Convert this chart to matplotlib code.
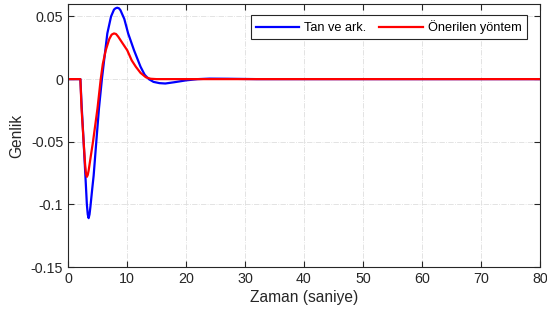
import matplotlib
matplotlib.use("Agg")
import matplotlib.pyplot as plt

plt.rcParams['font.family'] = ['Liberation Sans', 'DejaVu Sans']

t_blue = [0, 2.1, 2.3, 2.65, 2.95, 3.2, 3.35, 3.5, 3.65, 3.8, 4.1, 4.35, 4.8, 5.25, 5.75, 6.2,
          6.67, 7.3, 7.8, 8.05, 8.35, 8.65, 8.9, 9.55, 10.2, 11.2, 12.3, 13.0, 13.7, 14.5,
          15.5, 16.5, 18, 20, 22, 24, 27, 32, 80]
y_blue = [0, 0, -0.02, -0.05, -0.077, -0.100, -0.108, -0.111, -0.108, -0.102, -0.088, -0.077,
          -0.05, -0.0235, 0, 0.018, 0.0365, 0.05, 0.0555, 0.0565, 0.057, 0.0565, 0.055,
          0.048, 0.0365, 0.023, 0.0099, 0.0035, 0, -0.0022, -0.0032, -0.0035, -0.0025,
          -0.001, 0, 0.0004, 0.0003, 0, 0]

t_red = [0, 2.1, 2.3, 2.65, 2.9, 3.05, 3.2, 3.35, 3.5, 3.85, 4.24, 5.0, 5.55, 5.9, 6.4, 7.0,
         7.4, 7.8, 8.15, 8.5, 9.2, 10.05, 10.8, 11.5, 12.3, 13.2, 14, 15, 80]
y_red = [0, 0, -0.0235, -0.05, -0.068, -0.0755, -0.078, -0.0765, -0.073, -0.062, -0.05,
         -0.0235, 0, 0.012, 0.023, 0.032, 0.0355, 0.0365, 0.036, 0.034, 0.029, 0.023, 0.015,
         0.0099, 0.005, 0.0015, 0.0003, 0, 0]

labels = ["Tan ve ark.", "Önerilen yöntem"]
xticks = [0, 10, 20, 30, 40, 50, 60, 70, 80]
yticks = [-0.15, -0.1, -0.05, 0, 0.05]
ytick_labels = ["-0.15", "-0.1", "-0.05", "0", "0.05"]

fig = plt.figure(figsize=(5.47, 3.2), dpi=100)
ax = fig.add_axes([0.1243, 0.1656, 0.8625, 0.822])
ax.plot(t_blue, y_blue, color='#0000ff', lw=1.6, label=labels[0])
ax.plot(t_red, y_red, color='#ff0000', lw=1.6, label=labels[1])
ax.set_xlim(0, 80)
ax.set_ylim(-0.15, 0.06)
ax.set_xticks(xticks)
ax.set_yticks(yticks)
ax.set_yticklabels(ytick_labels)
ax.grid(True, linestyle='-.', color='#dedede', lw=0.6)
ax.tick_params(direction='in', top=True, right=True, labelsize=10.3, colors='#262626', length=4)
for s in ax.spines.values():
    s.set_color('#262626')
    s.set_linewidth(0.8)
ax.set_xlabel("Zaman (saniye)", fontsize=11.2, color='#262626', labelpad=3)
ax.set_ylabel("Genlik", fontsize=11.2, color='#262626', labelpad=5)
leg = ax.legend(loc='upper right', bbox_to_anchor=(0.9725, 0.958), borderaxespad=0,
                ncol=2, fontsize=9.2, fancybox=False, framealpha=1,
                edgecolor='#262626', handlelength=3.4, columnspacing=1.0,
                borderpad=0.4, handletextpad=0.4)
leg.get_frame().set_linewidth(0.8)
fig.savefig("out.png", dpi=100)
